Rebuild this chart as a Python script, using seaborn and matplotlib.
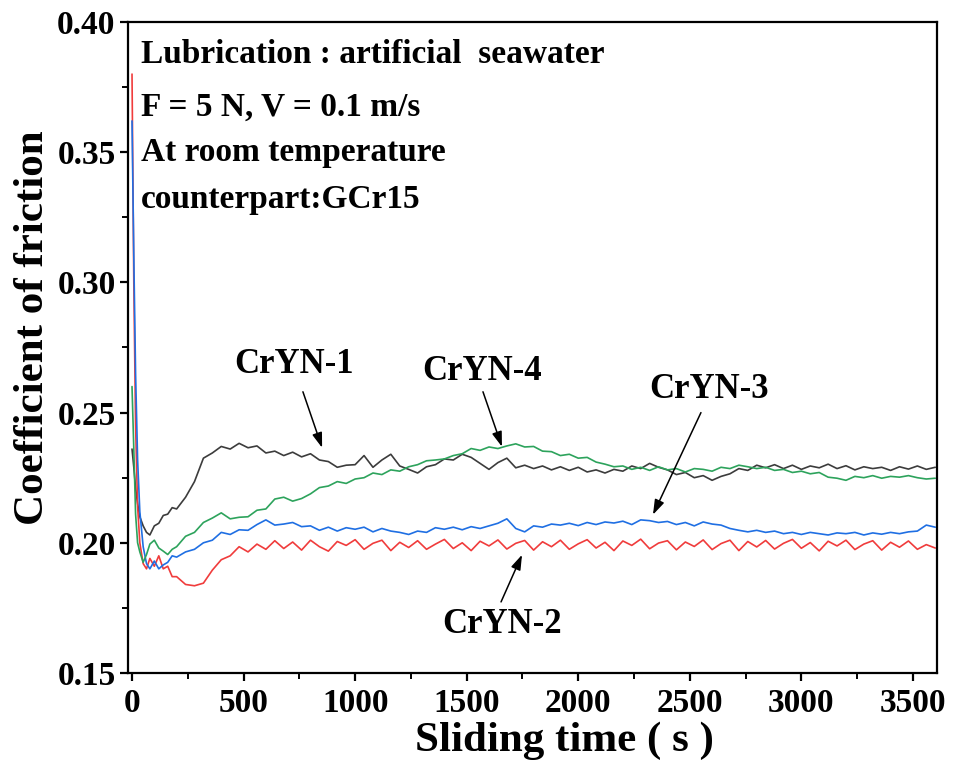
import matplotlib
matplotlib.use("Agg")
import matplotlib.pyplot as plt
from matplotlib.ticker import MultipleLocator, FormatStrFormatter
import seaborn as sns
import pandas as pd

# ---------------- data ----------------
time_s = [0, 8, 16, 25, 35, 50, 65, 80, 100, 120, 140, 160, 180, 200,
          240, 280, 320, 360, 400, 440, 480, 520, 560, 600, 640, 680, 720, 760,
          800, 840, 880, 920, 960, 1000, 1040, 1080, 1120, 1160, 1200, 1240,
          1280, 1320, 1360, 1400, 1440, 1480, 1520, 1560, 1600, 1640, 1680,
          1720, 1760, 1800, 1840, 1880, 1920, 1960, 2000, 2040, 2080, 2120,
          2160, 2200, 2240, 2280, 2320, 2360, 2400, 2440, 2480, 2520, 2560,
          2600, 2640, 2680, 2720, 2760, 2800, 2840, 2880, 2920, 2960, 3000,
          3040, 3080, 3120, 3160, 3200, 3240, 3280, 3320, 3360, 3400, 3440,
          3480, 3520, 3560, 3600]

cryn1 = [0.236, 0.229, 0.221, 0.215, 0.210, 0.2065, 0.2040, 0.2030, 0.2065, 0.2075,
         0.2105, 0.2110, 0.2135, 0.2130,
         0.2175, 0.2235, 0.2325, 0.2345, 0.2370, 0.2360, 0.2382, 0.2365, 0.2372, 0.2345,
         0.2352, 0.2335, 0.2348, 0.2330, 0.2342, 0.2318, 0.2312, 0.2290, 0.2298, 0.2300,
         0.2335, 0.2290, 0.2318, 0.2340, 0.2295, 0.2282, 0.2268, 0.2292, 0.2300, 0.2322,
         0.2318, 0.2340, 0.2328, 0.2305, 0.2282, 0.2308, 0.2325, 0.2288, 0.2298, 0.2285,
         0.2295, 0.2280, 0.2292, 0.2278, 0.2290, 0.2272, 0.2280, 0.2268, 0.2282, 0.2275,
         0.2295, 0.2285, 0.2305, 0.2290, 0.2280, 0.2262, 0.2270, 0.2250, 0.2258, 0.2240,
         0.2255, 0.2265, 0.2285, 0.2278, 0.2298, 0.2288, 0.2300, 0.2285, 0.2298, 0.2282,
         0.2295, 0.2288, 0.2302, 0.2285, 0.2296, 0.2280, 0.2292, 0.2285, 0.2290, 0.2278,
         0.2292, 0.2283, 0.2295, 0.2282, 0.2290]

cryn2 = [0.380, 0.300, 0.245, 0.214, 0.200, 0.192, 0.190, 0.194, 0.191, 0.195,
         0.190, 0.191, 0.187, 0.187,
         0.1840, 0.1835, 0.1845, 0.1895, 0.1935, 0.1950, 0.1985, 0.1965, 0.1995, 0.1975,
         0.2008, 0.1978, 0.2003, 0.1972, 0.2010, 0.1985, 0.1968, 0.2005, 0.1990, 0.2012,
         0.1975, 0.1998, 0.2010, 0.1970, 0.2002, 0.1982, 0.2008, 0.1975, 0.1995, 0.2013,
         0.1978, 0.2000, 0.1970, 0.2006, 0.1988, 0.2011, 0.1976, 0.1998, 0.2009, 0.1972,
         0.2004, 0.1985, 0.2010, 0.1975, 0.1996, 0.2012, 0.1980, 0.2002, 0.1970, 0.2007,
         0.1990, 0.2014, 0.1977, 0.1999, 0.2008, 0.1973, 0.2003, 0.1986, 0.2011, 0.1974,
         0.1997, 0.2010, 0.1970, 0.2005, 0.1984, 0.2009, 0.1976, 0.1998, 0.2013, 0.1979,
         0.2001, 0.1969, 0.2006, 0.1988, 0.2010, 0.1974, 0.1995, 0.2008, 0.1972, 0.2002,
         0.1983, 0.2007, 0.1975, 0.1993, 0.1980]

cryn3 = [0.362, 0.310, 0.265, 0.232, 0.212, 0.1985, 0.1920, 0.1900, 0.1930, 0.1900,
         0.1915, 0.1925, 0.1950, 0.1945,
         0.1965, 0.1975, 0.2000, 0.2010, 0.2040, 0.2032, 0.2050, 0.2048, 0.2070, 0.2088,
         0.2068, 0.2072, 0.2078, 0.2062, 0.2065, 0.2048, 0.2060, 0.2045, 0.2058, 0.2052,
         0.2060, 0.2042, 0.2055, 0.2045, 0.2040, 0.2032, 0.2045, 0.2040, 0.2058, 0.2052,
         0.2060, 0.2050, 0.2062, 0.2055, 0.2065, 0.2075, 0.2092, 0.2055, 0.2042, 0.2065,
         0.2060, 0.2072, 0.2068, 0.2075, 0.2066, 0.2078, 0.2070, 0.2080, 0.2076, 0.2083,
         0.2070, 0.2088, 0.2085, 0.2078, 0.2082, 0.2070, 0.2078, 0.2065, 0.2080, 0.2072,
         0.2068, 0.2055, 0.2048, 0.2042, 0.2048, 0.2040, 0.2045, 0.2035, 0.2040, 0.2032,
         0.2040, 0.2035, 0.2030, 0.2038, 0.2035, 0.2040, 0.2030, 0.2038, 0.2033, 0.2040,
         0.2035, 0.2042, 0.2045, 0.2068, 0.2060]

cryn4 = [0.260, 0.236, 0.211, 0.200, 0.1965, 0.1925, 0.1955, 0.1995, 0.2010, 0.1980,
         0.1968, 0.1955, 0.1975, 0.1985,
         0.2025, 0.2040, 0.2078, 0.2095, 0.2115, 0.2092, 0.2098, 0.2100, 0.2125, 0.2130,
         0.2168, 0.2175, 0.2160, 0.2170, 0.2188, 0.2212, 0.2218, 0.2235, 0.2228, 0.2245,
         0.2250, 0.2268, 0.2262, 0.2280, 0.2275, 0.2292, 0.2300, 0.2315, 0.2318, 0.2322,
         0.2335, 0.2342, 0.2362, 0.2355, 0.2368, 0.2362, 0.2372, 0.2380, 0.2368, 0.2370,
         0.2352, 0.2350, 0.2335, 0.2340, 0.2325, 0.2328, 0.2310, 0.2302, 0.2292, 0.2295,
         0.2282, 0.2290, 0.2278, 0.2292, 0.2280, 0.2285, 0.2272, 0.2285, 0.2282, 0.2275,
         0.2290, 0.2285, 0.2298, 0.2292, 0.2285, 0.2290, 0.2278, 0.2282, 0.2270, 0.2275,
         0.2265, 0.2270, 0.2252, 0.2248, 0.2240, 0.2255, 0.2250, 0.2258, 0.2248, 0.2255,
         0.2252, 0.2258, 0.2250, 0.2245, 0.2248]

series_names = ["CrYN-1", "CrYN-2", "CrYN-3", "CrYN-4"]
series_colors = ["#3c3c3c", "#f03c3c", "#1f6fe3", "#2da35c"]

info_lines = ["Lubrication : artificial  seawater",
              "F = 5 N, V = 0.1 m/s",
              "At room temperature",
              "counterpart:GCr15"]

# (label, text pos, arrow tail, arrow head) in data coordinates
annotations = [
    ("CrYN-1", (726, 0.2684), (766, 0.2580), (852, 0.2365)),
    ("CrYN-4", (1569, 0.2657), (1573, 0.2580), (1658, 0.2369)),
    ("CrYN-3", (2586, 0.2588), (2550, 0.2500), (2335, 0.2108)),
    ("CrYN-2", (1658, 0.1685), (1654, 0.1773), (1748, 0.1954)),
]

# ---------------- build frame ----------------
frames = []
for name, vals in zip(series_names, [cryn1, cryn2, cryn3, cryn4]):
    frames.append(pd.DataFrame({"t": time_s, "cof": vals, "sample": name}))
df = pd.concat(frames, ignore_index=True)

# ---------------- style ----------------
sns.set_style("ticks")
plt.rcParams["font.family"] = ["Liberation Serif", "DejaVu Serif"]
plt.rcParams["font.weight"] = "bold"
plt.rcParams["axes.labelweight"] = "bold"
plt.rcParams["axes.labelcolor"] = "black"
plt.rcParams["text.color"] = "black"

fig = plt.figure(figsize=(9.55, 7.69), dpi=100)
ax = fig.add_axes([128 / 955, 1 - 673 / 769, (937 - 128) / 955, (673 - 22) / 769])

draw_order = ["CrYN-1", "CrYN-2", "CrYN-3", "CrYN-4"]
sns.lineplot(data=df, x="t", y="cof", hue="sample", hue_order=draw_order,
             palette=dict(zip(series_names, series_colors)),
             estimator=None, sort=False, legend=False, linewidth=1.2, ax=ax)

ax.set_xlim(-18, 3608)
ax.set_ylim(0.15, 0.40)
ax.xaxis.set_major_locator(MultipleLocator(500))
ax.xaxis.set_minor_locator(MultipleLocator(250))
ax.yaxis.set_major_locator(MultipleLocator(0.05))
ax.yaxis.set_minor_locator(MultipleLocator(0.025))
ax.yaxis.set_major_formatter(FormatStrFormatter("%.2f"))

for sp in ax.spines.values():
    sp.set_linewidth(1.6)
    sp.set_color("black")
ax.tick_params(which="major", direction="out", length=6, width=1.6,
               labelsize=24, pad=3, colors="black")
ax.tick_params(axis="x", which="major", pad=5)
ax.tick_params(which="minor", direction="out", length=4, width=1.4, colors="black")
for lbl in ax.get_xticklabels() + ax.get_yticklabels():
    lbl.set_fontweight("bold")

ax.set_xlabel("Sliding time ( s )", fontsize=31, fontweight="bold", color="black")
ax.set_ylabel("Coefficient of friction", fontsize=31, fontweight="bold", color="black")
ax.xaxis.set_label_coords(0.539, -0.074)
ax.yaxis.set_label_coords(-0.094, 0.53)

baselines = [0.937, 0.856, 0.786, 0.714]
for line, yb in zip(info_lines, baselines):
    ax.text(0.016, yb, line, transform=ax.transAxes, fontsize=24,
            fontweight="bold", ha="left", va="baseline", color="black")

for label, tpos, tail, head in annotations:
    ax.text(tpos[0], tpos[1], label, fontsize=25, fontweight="bold",
            ha="center", va="center", color="black")
    ax.annotate("", xy=head, xytext=tail,
                arrowprops=dict(arrowstyle="-|>,head_length=0.6,head_width=0.2",
                                color="black", lw=1.1, mutation_scale=15,
                                shrinkA=0, shrinkB=0))

fig.savefig("out.png", dpi=100)
